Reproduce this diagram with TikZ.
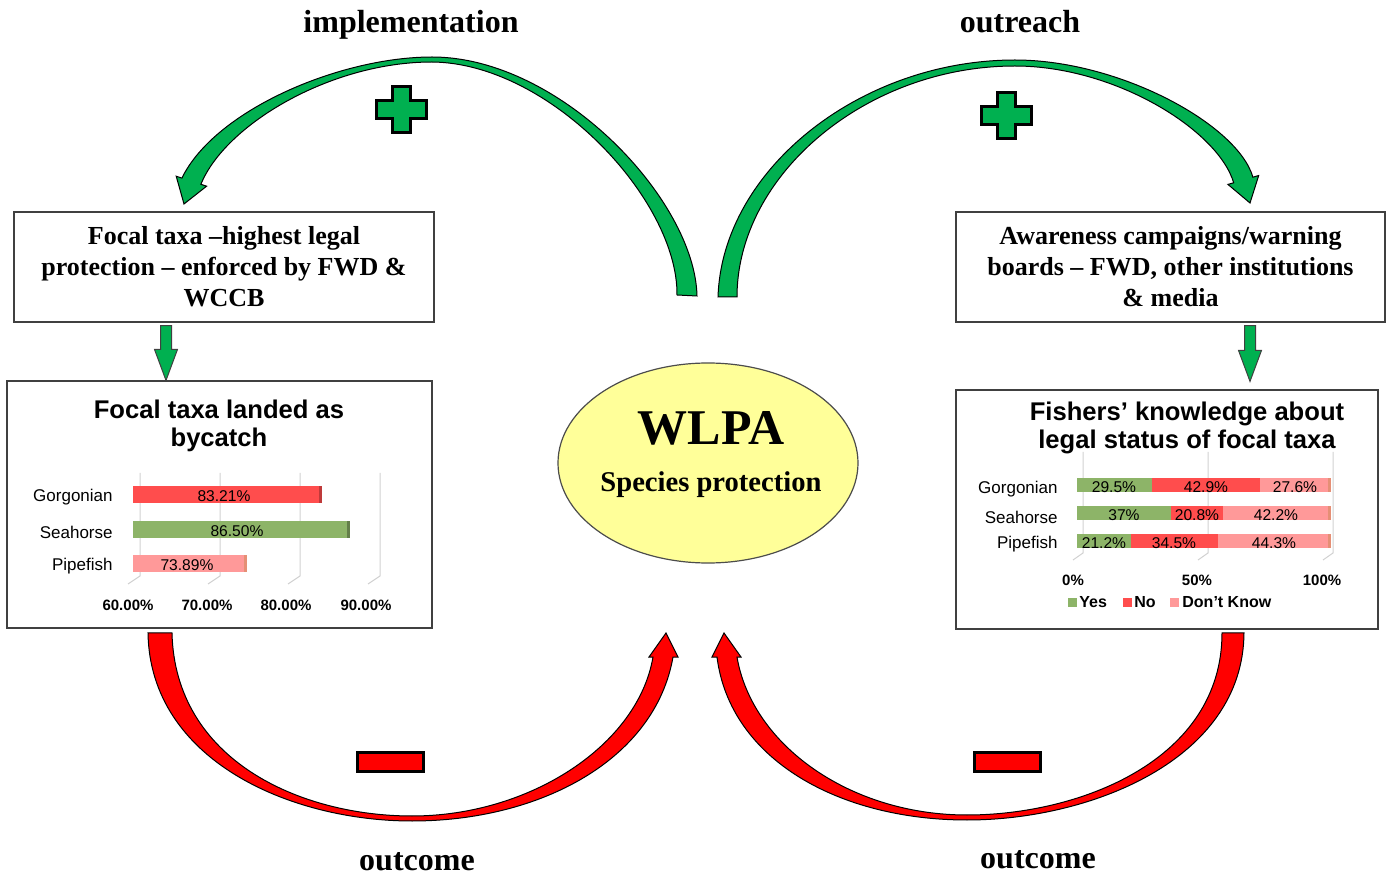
\documentclass[tikz,border=0pt]{standalone}
\usepackage{fontspec}
\setmainfont{Liberation Serif}
\setsansfont{Liberation Sans}
\usetikzlibrary{shapes.geometric,calc}
\definecolor{arrowgreen}{RGB}{0,176,80}
\definecolor{arrowred}{RGB}{255,0,0}
\definecolor{wlpayellow}{RGB}{255,255,153}
\definecolor{barred}{RGB}{255,77,77}
\definecolor{bargreen}{RGB}{141,180,104}
\definecolor{barpink}{RGB}{255,153,153}
\tikzset{
  textbox/.style={draw=black!75, line width=0.6pt, minimum height=55pt, align=center, inner sep=0pt,
    font=\bfseries\fontsize{13}{15.5}\selectfont},
  chartbox/.style={draw=black!75, line width=0.6pt, inner sep=0pt},
  charttitle/.style={align=center, inner sep=0pt, font=\sffamily\bfseries\fontsize{12.8}{14.3}\selectfont},
  catlabel/.style={anchor=east, inner sep=0pt, font=\sffamily\fontsize{8.5}{10}\selectfont},
  vallabel/.style={inner sep=0pt, font=\sffamily\fontsize{7.8}{9}\selectfont},
  ticklabel/.style={inner sep=0pt, font=\sffamily\bfseries\fontsize{7.5}{9}\selectfont},
  looplabel/.style={inner sep=0pt, font=\bfseries\fontsize{16}{19}\selectfont},
  grid3d/.style={draw=black!18, line width=0.5pt},
  greenarc/.style={draw=black, line width=0.5pt, fill=arrowgreen},
  redarc/.style={draw=black, line width=0.5pt, fill=arrowred},
  signmark/.style={draw=black, line width=1.5pt, line join=miter},
  blockdown/.style={draw=black!75, line width=0.5pt, fill=arrowgreen}
}
\newcommand{\greendrop}[2]{%
  \path[blockdown] let \p1=(#1), \p2=(#2) in
    (\x1-2.75pt,\y1) -- (\x1+2.75pt,\y1) -- (\x1+2.75pt,\y2+15.5pt)
    -- (\x1+5.75pt,\y2+15.5pt) -- (\x1,\y2) -- (\x1-5.75pt,\y2+15.5pt)
    -- (\x1-2.75pt,\y2+15.5pt) -- cycle;}
\begin{document}
\begin{tikzpicture}[x=0.5pt,y=-0.5pt]
   \useasboundingbox (0,0) rectangle (1389,877);
   %labels
   \node[looplabel] (impl) at (411,25) {implementation};
   \node[looplabel] (outr) at (1020,22) {outreach};
   \node[looplabel] (outcL) at (417,862) {outcome};
   \node[looplabel] (outcR) at (1038,860) {outcome};
   %centre
   \node[ellipse, draw=black!70, line width=0.6pt, fill=wlpayellow, minimum width=150pt, minimum height=100pt] (wlpa) at (708,463) {};
   \node[inner sep=0pt, font=\bfseries\fontsize{25}{30}\selectfont] (wlpatitle) at (711,428) {WLPA};
   \node[inner sep=0pt, font=\bfseries\fontsize{14.3}{17}\selectfont] (wlpasub) at (711,485) {Species protection};
   %boxes
   \node[textbox, minimum width=210pt] (focalbox) at (224,267) {Focal taxa –highest legal\\protection – enforced by FWD \&\\WCCB};
   \node[textbox, minimum width=214.5pt] (awarebox) at (1170.5,267) {Awareness campaigns/warning\\boards – FWD, other institutions\\\& media};
   \node[chartbox, minimum width=212.5pt, minimum height=123.5pt] (landedchart) at (219.5,504.5) {};
   \node[chartbox, minimum width=211pt, minimum height=119.5pt] (knowchart) at (1167,509.5) {};
   %drops
   \coordinate (leftdrop) at (166,0);
   \coordinate (rightdrop) at (1250,0);
   \greendrop{$(focalbox.south -| leftdrop)+(0,3)$}{landedchart.north -| leftdrop}
   \greendrop{$(awarebox.south -| rightdrop)+(0,3)$}{$(knowchart.north -| rightdrop)+(0,-8)$}
   %implementation arc
   \path[greenarc] (697,296) .. controls (695,200) and (560,57) .. (432,57)
     .. controls (340,57) and (215,110) .. (181.9,178.1)
     -- (176.2,176.2) -- (184,204) -- (206.6,186.2) -- (200.9,184.3)
     .. controls (225,125) and (330,62) .. (432,62)
     .. controls (550,63) and (678,200) .. (677,295) -- cycle;
   %outreach arc
   \path[greenarc] (718,297) .. controls (722,170) and (860,60) .. (1015,60)
     .. controls (1120,60) and (1238,125) .. (1252.9,177.2)
     -- (1258.7,175.5) -- (1250,203) -- (1227.9,184.4) -- (1233.7,182.8)
     .. controls (1218,130) and (1115,66) .. (1015,66)
     .. controls (866,66) and (737,175) .. (737,297) -- cycle;
   %outcome arcs
   \path[redarc] (148,633) .. controls (150,760) and (290,821) .. (412,821)
     .. controls (540,821) and (655,760) .. (673,657)
     -- (678,657) -- (666,633) -- (649,657) -- (653,657)
     .. controls (638,745) and (530,816) .. (412,816)
     .. controls (300,816) and (175,760) .. (172,633) -- cycle;
   \path[redarc] (1244,633) .. controls (1243,760) and (1090,820) .. (967,820)
     .. controls (840,820) and (730,760) .. (717,657)
     -- (712,657) -- (724,633) -- (741,657) -- (737,657)
     .. controls (752,745) and (850,815) .. (967,815)
     .. controls (1080,815) and (1222,760) .. (1222,633) -- cycle;
   %plus and minus
   \path[signmark, fill=arrowgreen, shift={(401,110)}] (-9,-23) -- (9,-23) -- (9,-9) -- (25,-9) -- (25,9) -- (9,9)
     -- (9,23) -- (-9,23) -- (-9,9) -- (-25,9) -- (-25,-9) -- (-9,-9) -- cycle;
   \path[signmark, fill=arrowgreen, shift={(1006.5,115.5)}] (-9,-23) -- (9,-23) -- (9,-9) -- (25,-9) -- (25,9) -- (9,9)
     -- (9,23) -- (-9,23) -- (-9,9) -- (-25,9) -- (-25,-9) -- (-9,-9) -- cycle;
   \path[signmark, fill=arrowred] (357,752) rectangle (423,771);
   \path[signmark, fill=arrowred] (974,752) rectangle (1040,771);
   %chart landed
   \node[charttitle] (landedtitle) at (219,426) {Focal taxa landed as\\bycatch};
   \foreach \gx in {140,220,300,380}
     \draw[grid3d] (\gx,473) -- (\gx,576) -- (\gx-12,584);
   \fill[barred] (133,486) rectangle (321,503);
   \fill[bargreen] (133,521) rectangle (349,538);
   \fill[barpink] (133,555) rectangle (246,572);
   \fill[barred!75!black] (319,486) rectangle (322,503);
   \fill[bargreen!70!black] (347,521) rectangle (350,538);
   \fill[barpink!60!brown] (244,555) rectangle (247,572);
   \node[catlabel] (gorgL) at (113,497) {Gorgonian};
   \node[catlabel] (seaL) at (113,532) {Seahorse};
   \node[catlabel] (pipeL) at (113,566) {Pipefish};
   \node[vallabel] (gorgV) at (224,496) {83.21\%};
   \node[vallabel] (seaV) at (237,531) {86.50\%};
   \node[vallabel] (pipeV) at (187,565) {73.89\%};
   \node[ticklabel] (tickA) at (128,605) {60.00\%};
   \node[ticklabel] (tickB) at (207,605) {70.00\%};
   \node[ticklabel] (tickC) at (286,605) {80.00\%};
   \node[ticklabel] (tickD) at (366,605) {90.00\%};
   %chart knowledge
   \node[charttitle] (knowtitle) at (1187,428) {Fishers’ knowledge about\\legal status of focal taxa};
   \foreach \gx in {1083,1208,1333}
     \draw[grid3d] (\gx,452) -- (\gx,553) -- (\gx-10,560);
   \fill[bargreen] (1077,478) rectangle (1151.6,492);
   \fill[barred] (1151.6,478) rectangle (1260.1,492);
   \fill[barpink] (1260.1,478) rectangle (1330,492);
   \fill[bargreen] (1077,506) rectangle (1170.6,520);
   \fill[barred] (1170.6,506) rectangle (1223.2,520);
   \fill[barpink] (1223.2,506) rectangle (1330,520);
   \fill[bargreen] (1077,534) rectangle (1130.6,548);
   \fill[barred] (1130.6,534) rectangle (1217.9,548);
   \fill[barpink] (1217.9,534) rectangle (1330,548);
   \fill[barpink!60!brown] (1328,478) rectangle (1331,492);
   \fill[barpink!60!brown] (1328,506) rectangle (1331,520);
   \fill[barpink!60!brown] (1328,534) rectangle (1331,548);
   \node[catlabel] (gorgK) at (1058,489) {Gorgonian};
   \node[catlabel] (seaK) at (1058,517) {Seahorse};
   \node[catlabel] (pipeK) at (1058,544) {Pipefish};
   \node[vallabel] (gorgY) at (1114,487) {29.5\%};
   \node[vallabel] (gorgN) at (1206,487) {42.9\%};
   \node[vallabel] (gorgD) at (1295,487) {27.6\%};
   \node[vallabel] (seaY) at (1124,515) {37\%};
   \node[vallabel] (seaN) at (1197,515) {20.8\%};
   \node[vallabel] (seaD) at (1276,515) {42.2\%};
   \node[vallabel] (pipeY) at (1104,543) {21.2\%};
   \node[vallabel] (pipeN) at (1174,543) {34.5\%};
   \node[vallabel] (pipeD) at (1274,543) {44.3\%};
   \node[ticklabel] (tickE) at (1073,580) {0\%};
   \node[ticklabel] (tickF) at (1197,580) {50\%};
   \node[ticklabel] (tickG) at (1322,580) {100\%};
   %legend
   \fill[bargreen] (1068,598) rectangle (1077,607);
   \node[ticklabel, anchor=west, font=\sffamily\bfseries\fontsize{8}{9}\selectfont] (legY) at (1079,602) {Yes};
   \fill[barred] (1123,598) rectangle (1132,607);
   \node[ticklabel, anchor=west, font=\sffamily\bfseries\fontsize{8}{9}\selectfont] (legN) at (1134,602) {No};
   \fill[barpink] (1170,598) rectangle (1179,607);
   \node[ticklabel, anchor=west, font=\sffamily\bfseries\fontsize{8}{9}\selectfont] (legD) at (1182,602) {Don't Know};
\end{tikzpicture}
\end{document}
